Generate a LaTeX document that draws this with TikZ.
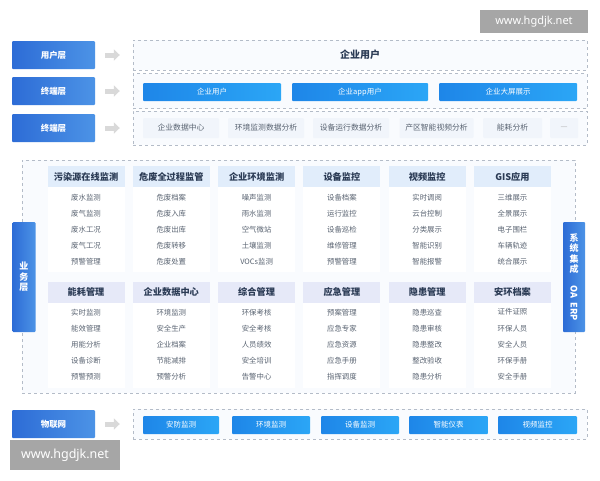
\documentclass[tikz,border=0pt]{standalone}
\usepackage{fontspec}
\setmainfont{Noto Sans CJK SC}
\newfontfamily\wmfont{Noto Sans}
\usetikzlibrary{arrows.meta}
\definecolor{labdark}{HTML}{2D6CD6}
\definecolor{lablight}{HTML}{4C93E6}
\definecolor{btndark}{HTML}{1E86E8}
\definecolor{btnlight}{HTML}{2BA6F6}
\definecolor{hdblue}{HTML}{E1EDFB}
\definecolor{hdlav}{HTML}{E6E9F8}
\definecolor{cellbg}{HTML}{F1F5FB}
\definecolor{boxbg}{HTML}{F9FBFE}
\definecolor{dashgray}{HTML}{B4BCC8}
\definecolor{txtdark}{HTML}{2B3B55}
\definecolor{txtgray}{HTML}{5A6472}
\begin{document}
\begin{tikzpicture}[x=1pt,y=-1pt,
  layer/.style={left color=labdark,right color=lablight,text=white,minimum width=83pt,minimum height=28pt,inner sep=0pt,rounded corners=1pt,font=\fontsize{8.5}{9}\selectfont\bfseries},
  zone/.style={draw=dashgray,dashed,fill=boxbg,inner sep=0pt,minimum width=454pt},
  btn/.style={left color=btndark,right color=btnlight,text=white,minimum height=18pt,inner sep=0pt,rounded corners=1pt,font=\fontsize{7.5}{8}\selectfont},
  cell/.style={fill=cellbg,text=txtgray,minimum height=20pt,inner sep=0pt,rounded corners=1pt,font=\fontsize{7.8}{8}\selectfont},
  hd/.style={fill=hdblue,text=txtdark,minimum width=77pt,minimum height=21pt,inner sep=0pt,font=\fontsize{9.2}{10}\selectfont\bfseries},
  body/.style={fill=white,minimum width=77pt,inner sep=0pt},
  item/.style={text=txtgray,inner sep=0pt,font=\fontsize{7.4}{8}\selectfont},
  bar/.style={left color=labdark,right color=lablight,text=white,minimum width=23pt,minimum height=110pt,inner sep=0pt,rounded corners=1pt,align=center,font=\fontsize{9}{10.5}\selectfont\bfseries},
  arr/.style={draw=gray!30,line width=5pt,-{Triangle[length=6pt,width=11pt]},shorten <=10pt,shorten >=13pt},
  wm/.style={fill=black!35,text=white,inner sep=0pt,font=\wmfont}]
\path[fill=white] (0,0) rectangle (600,480);
\useasboundingbox (0,0) rectangle (600,480);

\node[layer] (user) at (53.5,55) {用户层};
\node[layer] (term) at (53.5,91) {终端层};
\node[layer] (term2) at (53.5,128) {终端层};
\node[layer] (iot) at (53.5,424) {物联网};

\node[zone,minimum height=30pt] (zuser) at (360,55) {};
\node[zone,minimum height=35pt] (zterm) at (360,91) {};
\node[zone,minimum height=34pt] (zterm2) at (360,128) {};
\node[zone,minimum height=30pt] (ziot) at (360,424) {};
\node[draw=dashgray,dashed,fill=boxbg,minimum width=553pt,minimum height=233pt] (zbiz) at (298.5,276.5) {};

\draw[arr] (user) -- (zuser);
\draw[arr] (term) -- (zterm);
\draw[arr] (term2) -- (zterm2);
\draw[arr] (iot) -- (ziot);

\node[text=txtdark,font=\fontsize{10}{11}\selectfont\bfseries] (entuser) at (360,55) {企业用户};

\node[btn,minimum width=138pt] (b1) at (212,92) {企业用户};
\node[btn,minimum width=136pt] (b2) at (360,92) {企业app用户};
\node[btn,minimum width=138pt] (b3) at (508,92) {企业大屏展示};

\node[cell,minimum width=76pt] (c1) at (181,128) {企业数据中心};
\node[cell,minimum width=76pt] (c2) at (266,128) {环境监测数据分析};
\node[cell,minimum width=76pt] (c3) at (351,128) {设备运行数据分析};
\node[cell,minimum width=74pt] (c4) at (436.5,128) {产区智能视频分析};
\node[cell,minimum width=59pt] (c5) at (512.5,128) {能耗分析};
\node[cell,minimum width=28pt,text=gray!60] (c6) at (564,128) {---};

\foreach \c/\hdr/\ia/\ib/\ic/\id/\ie in {
  0/污染源在线监测/废水监测/废气监测/废水工况/废气工况/预警管理,
  1/危废全过程监管/危废档案/危废入库/危废出库/危废转移/危废处置,
  2/企业环境监测/噪声监测/雨水监测/空气微站/土壤监测/VOCs监测,
  3/设备监控/设备档案/运行监控/设备巡检/维修管理/预警管理,
  4/视频监控/实时调阅/云台控制/分类展示/智能识别/智能报警,
  5/GIS应用/三维展示/全景展示/电子围栏/车辆轨迹/统合展示}
{
  \node[body,minimum height=85pt] (ba\c) at (86+85.3*\c,229.5) {};
  \node[hd] (ha\c) at (86+85.3*\c,176.5) {\hdr};
  \foreach \t [count=\k] in {\ia,\ib,\ic,\id,\ie}
    \node[item] (ia\c-\k) at (86+85.3*\c,182+16*\k) {\t};
}

\foreach \c/\hdr/\ia/\ib/\ic/\id/\ie in {
  0/能耗管理/实时监测/能效管理/用能分析/设备诊断/预警预测,
  1/企业数据中心/环境监测/安全生产/企业档案/节能减排/预警分析,
  2/综合管理/环保考核/安全考核/人员绩效/安全培训/告警中心,
  3/应急管理/预案管理/应急专家/应急资源/应急手册/指挥调度,
  4/隐患管理/隐患巡查/隐患审核/隐患整改/整改验收/隐患分析,
  5/安环档案/证件证照/环保人员/安全人员/环保手册/安全手册}
{
  \node[body,minimum height=85pt] (bb\c) at (86+85.3*\c,345.5) {};
  \node[hd,fill=hdlav] (hb\c) at (86+85.3*\c,292) {\hdr};
  \foreach \t [count=\k] in {\ia,\ib,\ic,\id,\ie}
    \node[item] (ib\c-\k) at (86+85.3*\c,296+16.2*\k) {\t};
}

\node[bar] (bizbar) at (24,277) {业\\务\\层};
\node[bar,minimum width=22pt] (sysbar) at (574,277) {系\\统\\集\\成\\[2pt]\rotatebox{-90}{OA\enspace ERP}};

\node[btn,minimum width=76pt] (d1) at (181,425) {安防监测};
\node[btn,minimum width=78pt] (d2) at (271,425) {环境监测};
\node[btn,minimum width=78pt] (d3) at (360,425) {设备监测};
\node[btn,minimum width=79pt] (d4) at (448.5,425) {智能仪表};
\node[btn,minimum width=79pt] (d5) at (537.5,425) {视频监控};

\node[wm,minimum width=108pt,minimum height=23pt,font=\wmfont\fontsize{11}{12}\selectfont] (wmtop) at (534,21.5) {www.hgdjk.net};
\node[wm,minimum width=110pt,minimum height=30pt,font=\wmfont\fontsize{12.5}{13}\selectfont] (wmbot) at (65,455) {www.hgdjk.net};
\end{tikzpicture}
\end{document}
